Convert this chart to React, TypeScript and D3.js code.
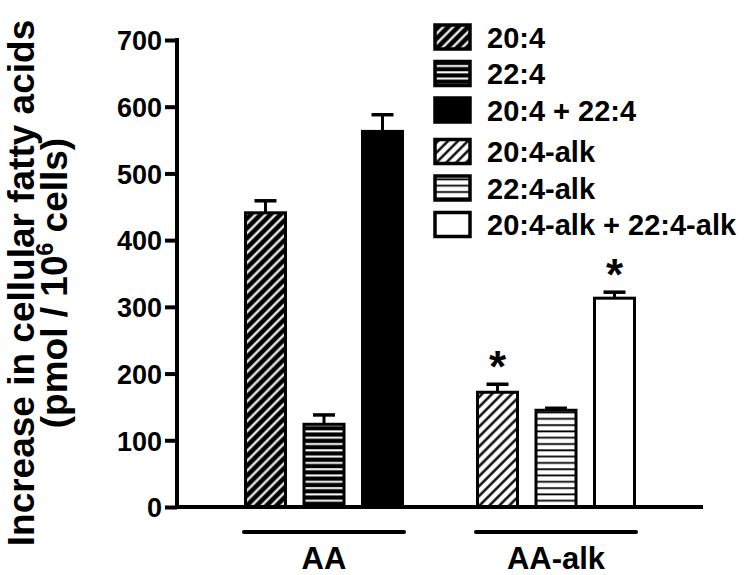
import { useEffect, useRef } from 'react';
import * as d3 from 'd3';

const groups = ['AA', 'AA-alk'];
const seriesNames = ['20:4', '22:4', '20:4 + 22:4', '20:4-alk', '22:4-alk', '20:4-alk + 22:4-alk'];
const seriesGroup = ['AA', 'AA', 'AA', 'AA-alk', 'AA-alk', 'AA-alk'];
const values = [441, 124, 563, 172, 145, 313];
const errors = [18, 14, 25, 12, 3, 9];
const significant = [false, false, false, true, false, true];
const yTicks = [0, 100, 200, 300, 400, 500, 600, 700];

const FONT = "'Liberation Sans', Arial, Helvetica, sans-serif";
const fills = ['url(#hatchDark)', 'url(#hLinesDark)', '#000', 'url(#hatchLight)', 'url(#hLinesLight)', '#fff'];

const App = () => {
  const svgRef = useRef(null);

  useEffect(() => {
    const svg = d3.select(svgRef.current);
    svg.selectAll('*').remove();

    const width = 747;
    const height = 575;
    svg.attr('width', width).attr('height', height);

    // patterns
    const defs = svg.append('defs');
    const diag = (id, bg, fg, lw) => {
      const p = defs.append('pattern')
        .attr('id', id)
        .attr('patternUnits', 'userSpaceOnUse')
        .attr('width', 7).attr('height', 7)
        .attr('patternTransform', 'rotate(45)');
      p.append('rect').attr('width', 7).attr('height', 7).attr('fill', bg);
      p.append('line').attr('x1', 3.5).attr('x2', 3.5).attr('y1', 0).attr('y2', 7)
        .attr('stroke', fg).attr('stroke-width', lw);
    };
    const horiz = (id, bg, fg, lw) => {
      const p = defs.append('pattern')
        .attr('id', id)
        .attr('patternUnits', 'userSpaceOnUse')
        .attr('width', 10).attr('height', 6.3);
      p.append('rect').attr('width', 10).attr('height', 6.3).attr('fill', bg);
      p.append('line').attr('x1', 0).attr('x2', 10).attr('y1', 3).attr('y2', 3)
        .attr('stroke', fg).attr('stroke-width', lw);
    };
    diag('hatchDark', '#000', '#fff', 2.2);
    diag('hatchLight', '#fff', '#000', 2.4);
    horiz('hLinesDark', '#000', '#fff', 2);
    horiz('hLinesLight', '#fff', '#000', 1.8);

    const y = d3.scaleLinear().domain([0, 700]).range([507, 40]);
    const x0 = d3.scaleBand().domain(groups).range([208, 672]);
    const x1 = d3.scaleBand().domain(['0', '1', '2']).range([36, 196]).paddingInner(0.265);

    const barX = (i) => x0(seriesGroup[i]) + x1(String(i % 3));
    const bw = x1.bandwidth();

    // y axis
    const yAxis = svg.append('g')
      .attr('transform', 'translate(177,0)')
      .call(d3.axisLeft(y).tickValues(yTicks).tickSize(12).tickSizeOuter(0).tickPadding(3));
    yAxis.select('.domain').attr('stroke', '#000').attr('stroke-width', 4)
      .attr('d', `M0,${y(700) - 2}V${y(0) + 2}`);
    yAxis.selectAll('.tick line').attr('stroke', '#000').attr('stroke-width', 4);
    yAxis.selectAll('.tick text')
      .attr('font-family', FONT).attr('font-weight', 'bold').attr('font-size', 27)
      .attr('fill', '#000').attr('dy', '0.36em');

    // bars
    const idx = d3.range(values.length);
    svg.selectAll('.bar')
      .data(idx)
      .enter()
      .append('rect')
      .attr('class', 'bar')
      .attr('x', (i) => barX(i) + 1.5)
      .attr('y', (i) => y(values[i]))
      .attr('width', bw - 3)
      .attr('height', (i) => y(0) - y(values[i]))
      .attr('fill', (i) => fills[i])
      .attr('stroke', '#000')
      .attr('stroke-width', 3);

    // error bars (upper only)
    idx.forEach((i) => {
      const cx = barX(i) + bw / 2;
      const top = y(values[i] + errors[i]);
      svg.append('line')
        .attr('x1', cx).attr('x2', cx)
        .attr('y1', y(values[i])).attr('y2', top)
        .attr('stroke', '#000').attr('stroke-width', 3);
      svg.append('line')
        .attr('x1', cx - 11).attr('x2', cx + 11)
        .attr('y1', top).attr('y2', top)
        .attr('stroke', '#000').attr('stroke-width', 3.5);
      if (significant[i]) {
        svg.append('text')
          .attr('x', cx).attr('y', top - 2)
          .attr('text-anchor', 'middle')
          .attr('font-family', FONT).attr('font-weight', 'bold').attr('font-size', 44)
          .text('*');
      }
    });

    // x axis line
    svg.append('line')
      .attr('x1', 175).attr('x2', 703)
      .attr('y1', y(0)).attr('y2', y(0))
      .attr('stroke', '#000').attr('stroke-width', 4);

    // group underline + labels
    groups.forEach((g) => {
      const start = x0(g) + x1('0');
      const end = x0(g) + x1('2') + bw;
      svg.append('line')
        .attr('x1', start).attr('x2', end)
        .attr('y1', 532).attr('y2', 532)
        .attr('stroke', '#000').attr('stroke-width', 4).attr('stroke-linecap', 'round');
      svg.append('text')
        .attr('x', (start + end) / 2).attr('y', 569)
        .attr('text-anchor', 'middle')
        .attr('font-family', FONT).attr('font-weight', 'bold').attr('font-size', 31)
        .text(g);
    });

    // y axis title
    const title = svg.append('g').attr('transform', 'translate(0,283) rotate(-90)');
    title.append('text')
      .attr('x', 0).attr('y', 34)
      .attr('text-anchor', 'middle')
      .attr('font-family', FONT).attr('font-weight', 'bold').attr('font-size', 37)
      .text('Increase in cellular fatty acids');
    const t2 = title.append('text')
      .attr('x', 0).attr('y', 67)
      .attr('text-anchor', 'middle')
      .attr('font-family', FONT).attr('font-weight', 'bold').attr('font-size', 37);
    t2.append('tspan').text('(pmol / 10');
    t2.append('tspan').attr('font-size', 23).attr('dy', -14).text('6');
    t2.append('tspan').attr('dy', 14).text(' cells)');

    // legend
    const legend = svg.append('g');
    seriesNames.forEach((name, i) => {
      const cy = 37 + i * 36.5 + (i >= 3 ? 5 : 0);
      legend.append('rect')
        .attr('x', 435).attr('y', cy - 12)
        .attr('width', 35).attr('height', 24)
        .attr('fill', fills[i])
        .attr('stroke', '#000').attr('stroke-width', 3.5);
      legend.append('text')
        .attr('x', 487).attr('y', cy + 10.5)
        .attr('font-family', FONT).attr('font-weight', 'bold').attr('font-size', 29)
        .text(name);
    });
  }, []);

  return (
    <svg ref={svgRef} style={{ position: 'absolute', left: 0, top: 0, background: '#fff' }}></svg>
  );
};

export default App;
